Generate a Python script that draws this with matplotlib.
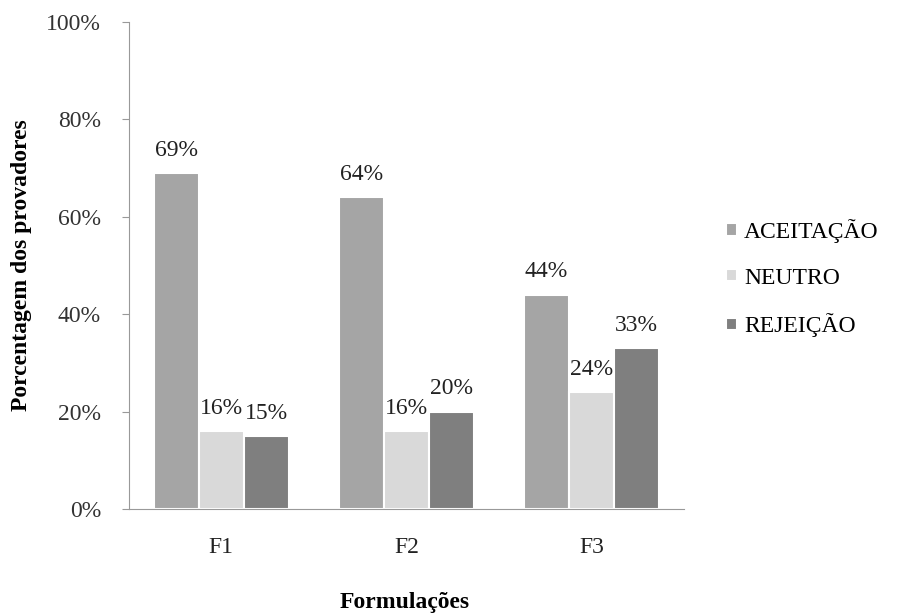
import numpy as np
import matplotlib.pyplot as plt

categories = ['F1', 'F2', 'F3']
series_names = ['ACEITAÇÃO', 'NEUTRO', 'REJEIÇÃO']
aceitacao = [69, 64, 44]
neutro = [16, 16, 24]
rejeicao = [15, 20, 33]
colors = ['#a5a5a5', '#d9d9d9', '#7f7f7f']

plt.rcParams['font.family'] = ['Liberation Serif', 'DejaVu Serif']

fig = plt.figure(figsize=(9.01, 6.15), dpi=100)
ax = fig.add_axes([0.143, 0.172, 0.616, 0.793])

x = np.arange(len(categories))
w = 0.243
for i, vals in enumerate([aceitacao, neutro, rejeicao]):
    pos = x + (i - 1) * w
    ax.bar(pos, vals, width=w, color=colors[i], edgecolor='white', linewidth=1.5,
           label=series_names[i], zorder=2)
    for p, v in zip(pos, vals):
        ax.text(p, v + 2.5, f'{v}%', ha='center', va='bottom', fontsize=17, color='#222222')

ax.set_xlim(-0.5, 2.5)
ax.set_ylim(0, 100)
ax.set_yticks(range(0, 101, 20))
ax.set_yticklabels([f'{t}%' for t in range(0, 101, 20)], fontsize=17, color='#333333')
ax.set_xticks(x)
ax.set_xticklabels(categories, fontsize=17, color='#222222')
ax.tick_params(axis='x', length=0, pad=20)
ax.tick_params(axis='y', length=5, color='#999999', pad=15)

for s in ['top', 'right']:
    ax.spines[s].set_visible(False)
for s in ['left', 'bottom']:
    ax.spines[s].set_color('#999999')

ax.set_ylabel('Porcentagem dos provadores', fontsize=17, fontweight='bold', labelpad=10)
fig.text(0.449, 0.021, 'Formulações', fontsize=17, fontweight='bold', ha='center', va='center')

ax.legend(loc='center left', bbox_to_anchor=(1.0, 0.474), frameon=False, fontsize=17,
          handlelength=0.45, handleheight=0.45, handletextpad=0.3, labelspacing=1.05,
          borderaxespad=1.4)

plt.savefig('out.png')
